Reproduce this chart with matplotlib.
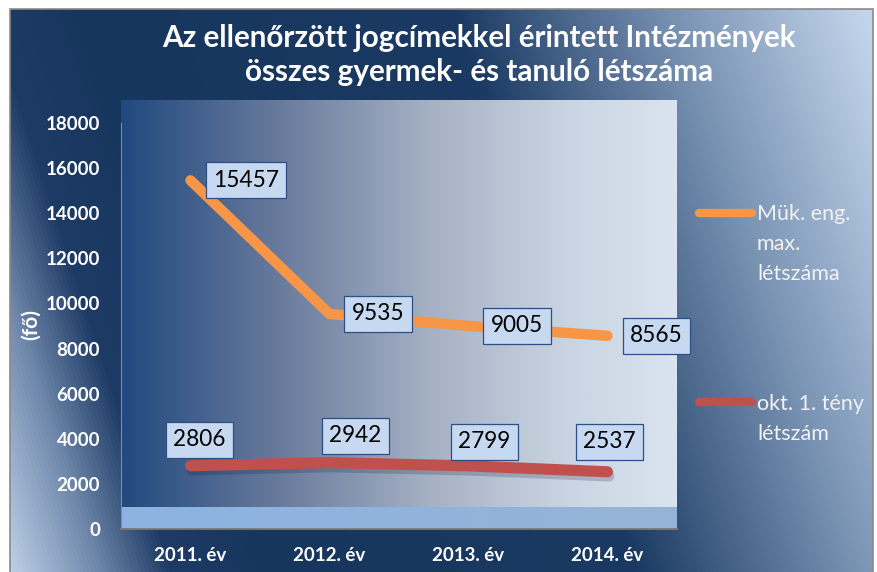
import numpy as np
import matplotlib
matplotlib.use("Agg")
import matplotlib.pyplot as plt
from matplotlib.colors import LinearSegmentedColormap
from matplotlib.lines import Line2D
from matplotlib.patches import Rectangle
import matplotlib.patheffects as pe

plt.rcParams['font.family'] = ['Lato', 'DejaVu Sans']

# ---------------- data ----------------
title = "Az ellenőrzött jogcímekkel érintett Intézmények\nösszes gyermek- és tanuló létszáma"
categories = ["2011. év", "2012. év", "2013. év", "2014. év"]
series_names = ["Mük. eng.\nmax.\nlétszáma", "okt. 1. tény\nlétszám"]
max_capacity = [15457, 9535, 9005, 8565]
actual_count = [2806, 2942, 2799, 2537]
y_ticks = [0, 2000, 4000, 6000, 8000, 10000, 12000, 14000, 16000, 18000]
y_label = "(fő)"

# ---------------- layout / style ----------------
W, H = 877, 572
ORANGE = "#f79646"
RED = "#c0504d"
LABEL_FC = "#c6d9f1"
LABEL_EC = "#2c4f86"
Y_TOP = 19020      # top of back wall in axis units
FLOOR = 975        # floor depth in axis units
LBL_FS = 16.3      # data label font size (pt)
LBL_PAD = 0.33     # bbox pad (fraction of font size)
TICK_FS = 13.5
# red label offsets in pixels (dx, dy); dy positive = up
red_offsets = [(9, 26), (26, 27), (16, 24), (2, 30)]

fig = plt.figure(figsize=(W / 100, H / 100), dpi=100)
fig.patch.set_facecolor("white")


def fx(px):
    return px / W


def fy(py):
    return 1 - py / H


# ---- outer chart-area gradient ----
fl, ft, fr = 10, 9, 873
bg = fig.add_axes([fx(fl), 0, fx(fr) - fx(fl), fy(ft)])
bg.set_axis_off()
xs = np.arange(fl, fr) + 0.5
ys = np.arange(ft, H) + 0.5
X, Y = np.meshgrid(xs, ys)
V = H - Y
t = (X + 0.326 * V) / (W + 0.326 * H)
bg_cmap = LinearSegmentedColormap.from_list("bg", [
    (0.00, "#c5d7ee"),
    (0.09, "#7089ac"),
    (0.16, "#1e3b65"),
    (0.25, "#17365d"),
    (0.60, "#1b3a63"),
    (0.82, "#7f98b8"),
    (1.00, "#c8daf0"),
])
bg.imshow(bg_cmap(t), extent=[fl, fr, H, ft], aspect="auto", interpolation="bilinear")
bg.set_xlim(fl, fr)
bg.set_ylim(H, ft)
fig.add_artist(Rectangle((fx(fl), -0.05), fx(fr) - fx(fl), fy(ft) + 0.05,
                         transform=fig.transFigure, fill=False,
                         ec="#8a8a8a", lw=1.2, zorder=5))

# ---- plot area ----
ax = fig.add_axes([fx(121), fy(529), fx(677) - fx(121), fy(100) - fy(529)])
ax.patch.set_visible(False)
ax.set_xlim(-0.5, len(categories) - 0.5)
ax.set_ylim(0, Y_TOP)

wall_cmap = LinearSegmentedColormap.from_list("wall", [
    (0.00, "#21497f"),
    (0.28, "#687a9c"),
    (0.55, "#a4b0c3"),
    (0.80, "#c9d4e2"),
    (1.00, "#dae4f0"),
])
grad = np.linspace(0, 1, 512).reshape(1, -1)
ax.imshow(grad, cmap=wall_cmap, extent=[-0.5, len(categories) - 0.5, FLOOR, Y_TOP],
          aspect="auto", zorder=0, interpolation="bilinear")
floor_cmap = LinearSegmentedColormap.from_list("floor", ["#8db3e2", "#95b3d6"])
ax.imshow(grad, cmap=floor_cmap, extent=[-0.5, len(categories) - 0.5, 0, FLOOR],
          aspect="auto", zorder=0.5, interpolation="bilinear")

xpos = np.arange(len(categories))
ax.plot(xpos, max_capacity, color=ORANGE, lw=7.5, solid_capstyle="round",
        solid_joinstyle="round", zorder=3)
ax.plot(xpos, actual_count, color=RED, lw=8, solid_capstyle="round",
        solid_joinstyle="round", zorder=3,
        path_effects=[pe.SimpleLineShadow(offset=(1, -3), shadow_color="#0a1a30",
                                          alpha=0.2), pe.Normal()])

box = dict(boxstyle=f"square,pad={LBL_PAD}", fc=LABEL_FC, ec=LABEL_EC, lw=0.9)
pad_pt = LBL_PAD * LBL_FS
for i, v in enumerate(max_capacity):
    ax.annotate(str(v), (xpos[i], v), xytext=(15 * 0.72 + pad_pt, 0),
                textcoords="offset points", ha="left", va="center",
                fontsize=LBL_FS, color="black", bbox=box, zorder=6)
for i, v in enumerate(actual_count):
    dx, dy = red_offsets[i]
    ax.annotate(str(v), (xpos[i], v), xytext=(dx * 0.72, dy * 0.72),
                textcoords="offset points", ha="center", va="center",
                fontsize=LBL_FS, color="black", bbox=box, zorder=6)

ax.set_yticks(y_ticks)
ax.set_yticklabels([str(v) for v in y_ticks])
ax.set_xticks(xpos)
ax.set_xticklabels(categories)
ax.tick_params(axis="y", length=0, pad=15, labelcolor="white", labelsize=TICK_FS)
ax.tick_params(axis="x", length=0, pad=13, labelcolor="white", labelsize=TICK_FS)
for lab in ax.get_xticklabels() + ax.get_yticklabels():
    lab.set_fontweight("bold")

for s in ["top", "right"]:
    ax.spines[s].set_visible(False)
ax.spines["left"].set_color("#8a8a8a")
ax.spines["left"].set_bounds(0, 18000)
ax.spines["bottom"].set_color("#7a7a7a")
ax.spines["bottom"].set_linewidth(1.3)

fig.text(fx(31), fy(325), y_label, rotation=90, ha="center", va="center",
         color="white", fontsize=15, fontweight="bold")

# ---- title (one text per line) ----
for line, base in zip(title.split("\n"), [47.5, 81]):
    fig.text(fx(479), fy(base), line, ha="center", va="baseline", color="white",
             fontsize=21.3, fontweight="bold")

# ---- legend ----
leg_y = [213, 402]
colors = [ORANGE, RED]
for name, c, y in zip(series_names, colors, leg_y):
    fig.add_artist(Line2D([fx(699), fx(752)], [fy(y), fy(y)], color=c, lw=6,
                          solid_capstyle="round", transform=fig.transFigure))
    for k, line in enumerate(name.split("\n")):
        fig.text(fx(757), fy(y + 7.5 + 30 * k), line, ha="left", va="baseline",
                 color="#f2f2f2", fontsize=15.5)

fig.savefig("out.png", dpi=100, facecolor="white")
